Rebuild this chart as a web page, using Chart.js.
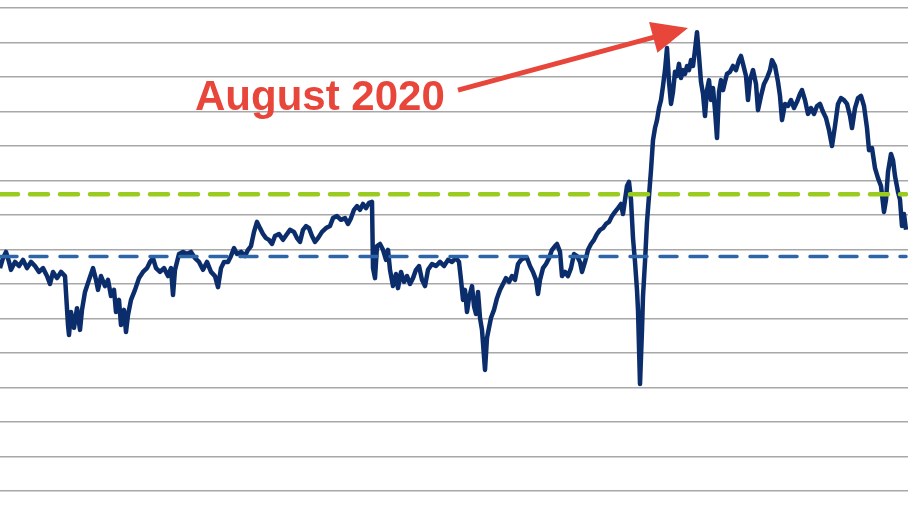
<!DOCTYPE html>
<html>
<head>
<meta charset="utf-8">
<script src="https://cdn.jsdelivr.net/npm/chart.js@4/dist/chart.umd.min.js"></script>
<style>
html,body{margin:0;padding:0;background:#fff;}
#wrap{width:924px;height:519px;position:relative;}
</style>
</head>
<body>
<div id="wrap"><canvas id="c" width="924" height="519"></canvas></div>
<script>
// Days since 2015-01-01
const days = [0,9,18,27,33,45,57,69,81,93,105,117,129,141,150,159,171,183,195,204,207,213,222,231,240,246,255,267,279,288,294,303,315,324,333,342,348,357,363,372,378,384,393,405,417,429,441,450,459,468,480,492,504,513,519,525,537,549,561,573,585,597,609,621,633,645,654,663,672,684,693,702,711,723,735,744,753,762,771,780,789,798,807,816,825,837,849,861,870,882,891,900,909,918,927,936,945,954,966,978,990,999,1011,1023,1035,1044,1053,1062,1071,1080,1089,1098,1107,1116,1119,1125,1131,1140,1149,1158,1164,1170,1179,1188,1194,1203,1212,1221,1230,1239,1248,1257,1266,1275,1284,1296,1308,1320,1332,1344,1356,1368,1377,1383,1389,1395,1401,1407,1416,1422,1428,1434,1440,1446,1455,1461,1467,1473,1482,1491,1500,1509,1518,1527,1536,1545,1554,1563,1572,1581,1590,1599,1608,1614,1620,1629,1638,1647,1656,1665,1671,1680,1686,1695,1704,1713,1722,1731,1740,1746,1755,1764,1773,1782,1791,1800,1809,1818,1827,1836,1845,1854,1863,1869,1875,1881,1887,1893,1899,1905,1911,1914,1920,1926,1929,1935,1941,1947,1953,1959,1965,1971,1977,1983,1989,1995,2001,2007,2013,2019,2025,2031,2037,2043,2049,2055,2061,2067,2073,2079,2085,2091,2097,2103,2109,2115,2121,2127,2133,2139,2145,2151,2157,2163,2169,2175,2181,2190,2199,2208,2217,2223,2229,2238,2244,2250,2259,2268,2274,2283,2292,2301,2310,2316,2325,2334,2340,2346,2355,2364,2373,2382,2391,2400,2406,2415,2424,2433,2442,2451,2460,2469,2478,2487,2496,2505,2514,2523,2532,2541,2550,2556,2565,2574,2583,2592,2601,2607,2616,2625,2634,2643,2652,2658,2664,2673,2679,2685,2694,2700,2706,2712,2718];

// Forward 12M P/E ratio
const forwardPE = [16.46,16.75,16.93,16.64,16.41,16.64,16.52,16.70,16.46,16.64,16.52,16.35,16.46,16.23,16.00,16.35,16.17,16.35,16.23,14.81,14.52,15.19,14.73,15.30,14.67,15.25,15.77,16.12,16.46,16.12,15.83,16.23,15.94,16.12,15.65,15.83,15.19,15.54,14.81,15.25,14.61,15.10,15.54,15.83,16.17,16.35,16.46,16.64,16.75,16.46,16.35,16.46,16.23,16.46,15.68,16.41,16.87,16.93,16.87,16.93,16.75,16.64,16.41,16.64,16.35,16.23,15.91,16.46,16.64,16.64,16.81,17.04,16.87,16.93,16.81,16.99,17.10,17.51,17.80,17.62,17.45,17.33,17.28,17.16,17.39,17.45,17.28,17.45,17.57,17.51,17.33,17.22,17.57,17.68,17.62,17.39,17.22,17.33,17.51,17.62,17.68,17.91,17.97,17.86,17.91,17.74,17.91,18.15,18.26,18.15,18.32,18.20,18.35,18.38,16.46,16.17,17.10,17.16,16.99,16.70,16.99,16.41,15.94,16.29,15.88,16.35,16.06,16.23,16.00,16.17,16.41,16.52,16.12,15.94,16.41,16.58,16.52,16.64,16.52,16.70,16.64,16.75,16.64,16.12,15.54,15.83,15.19,15.59,15.94,15.36,15.13,15.77,15.02,14.67,13.51,14.44,14.73,15.02,15.25,15.59,15.83,16.00,16.17,16.06,16.23,16.12,16.58,16.70,16.75,16.75,16.52,16.35,16.12,15.71,16.12,16.46,16.58,16.75,16.99,17.10,17.16,16.93,16.23,16.35,16.23,16.46,16.87,16.81,16.64,16.35,16.64,16.99,17.16,17.28,17.45,17.57,17.62,17.74,17.80,17.97,18.09,18.20,18.32,18.03,18.44,18.84,18.96,18.44,17.33,16.64,15.83,15.25,13.10,14.67,15.65,16.64,17.80,18.55,19.30,20.17,20.52,20.75,21.10,21.33,21.74,22.20,22.84,21.86,21.22,21.57,22.15,22.03,22.38,21.97,22.20,22.09,22.32,22.20,22.49,22.32,22.78,23.30,22.61,21.86,21.51,20.87,21.62,21.91,21.33,21.68,21.04,20.23,21.57,21.91,21.62,21.86,22.09,22.15,22.32,22.20,22.49,22.61,22.38,22.03,21.33,21.91,22.20,21.80,21.04,21.45,21.80,21.97,22.20,22.49,22.32,21.86,21.45,20.75,21.22,21.16,21.33,21.10,21.28,21.51,21.62,21.33,20.93,21.10,20.93,21.16,21.22,20.99,20.81,20.46,20.00,20.58,21.22,21.39,21.33,21.22,20.87,20.52,21.10,21.39,21.45,21.16,20.52,19.88,19.94,19.36,19.07,18.84,18.09,18.44,19.25,19.77,19.59,19.13,18.67,18.44,17.68,18.03,17.57];

const avg10yr = 16.8;
const avg5yr = 18.6;
const avgSpan = [0, 2718];

const yMin = 10, yMax = 24;
const annotationText = "August 2020";
// annotation anchors in data units [day, P/E]
const textAnchor = [585, 21.04];
const arrowTail = [1374, 21.62];
const arrowTip = [2064, 23.42];

const mainData = days.map((d, i) => ({x: d, y: forwardPE[i]}));
const lineOf = v => avgSpan.map(d => ({x: d, y: v}));

const annotate = {
  id: 'annotate',
  afterDatasetsDraw(chart) {
    const ctx = chart.ctx, xs = chart.scales.x, ys = chart.scales.y;
    const px = p => [xs.getPixelForValue(p[0]), ys.getPixelForValue(p[1])];
    const red = '#e8463b';
    ctx.save();
    ctx.fillStyle = red;
    ctx.font = 'bold 42px "Liberation Sans", Arial, sans-serif';
    ctx.textBaseline = 'alphabetic';
    ctx.textAlign = 'left';
    const t = px(textAnchor);
    ctx.fillText(annotationText, t[0], t[1]);
    const a = px(arrowTail), b = px(arrowTip);
    const ang = Math.atan2(b[1] - a[1], b[0] - a[0]);
    const headLen = 36, headHalf = 16;
    const bx = b[0] - headLen * Math.cos(ang), by = b[1] - headLen * Math.sin(ang);
    ctx.strokeStyle = red;
    ctx.lineWidth = 5;
    ctx.lineCap = 'butt';
    ctx.beginPath();
    ctx.moveTo(a[0], a[1]);
    ctx.lineTo(bx + 2 * Math.cos(ang), by + 2 * Math.sin(ang));
    ctx.stroke();
    ctx.beginPath();
    ctx.moveTo(b[0], b[1]);
    ctx.lineTo(bx + headHalf * Math.sin(ang), by - headHalf * Math.cos(ang));
    ctx.lineTo(bx - headHalf * Math.sin(ang), by + headHalf * Math.cos(ang));
    ctx.closePath();
    ctx.fill();
    ctx.restore();
  }
};

new Chart(document.getElementById('c'), {
  type: 'line',
  data: {
    datasets: [
      {label: '5-year average', data: lineOf(avg5yr), borderColor: '#9acb1f', borderWidth: 4.5, borderDash: [18, 12], borderCapStyle: 'round', pointRadius: 0, order: 0},
      {label: '10-year average', data: lineOf(avg10yr), borderColor: '#2c66a8', borderWidth: 3.5, borderDash: [17, 13], borderCapStyle: 'round', pointRadius: 0, order: 1},
      {label: 'Forward P/E', data: mainData, borderColor: '#0b2d6b', borderWidth: 4.5, pointRadius: 0, tension: 0, borderJoinStyle: 'round', order: 2}
    ]
  },
  options: {
    responsive: false,
    animation: false,
    devicePixelRatio: 1,
    layout: {padding: {left: 0, right: 16, top: 8, bottom: 28}},
    plugins: {legend: {display: false}, tooltip: {enabled: false}},
    scales: {
      x: {type: 'linear', min: 0, max: 2724, display: false},
      y: {
        min: yMin, max: yMax,
        ticks: {display: false, stepSize: 1},
        border: {display: false},
        grid: {color: '#a8a8a8', lineWidth: 1.5, drawTicks: false}
      }
    }
  },
  plugins: [annotate]
});
</script>
</body>
</html>
